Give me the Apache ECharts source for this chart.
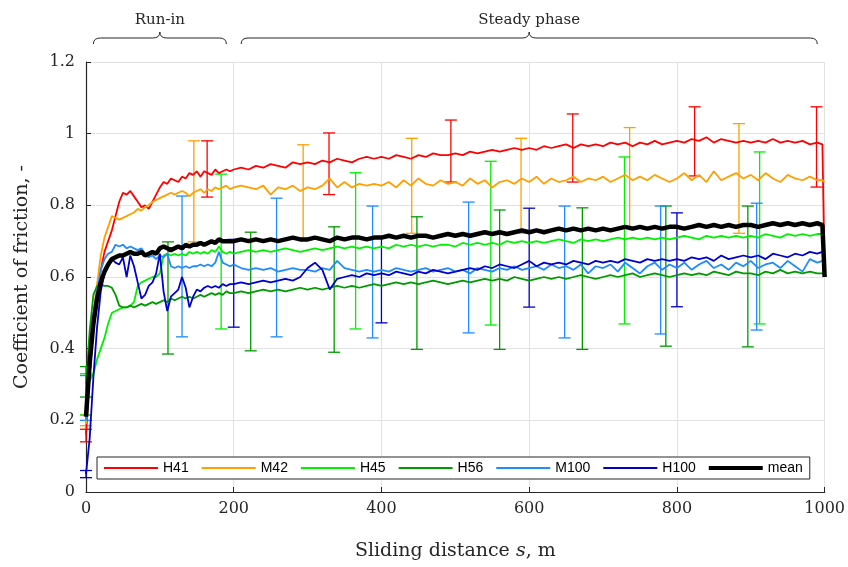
<!DOCTYPE html>
<html>
<head>
<meta charset="utf-8">
<script src="https://cdn.jsdelivr.net/npm/echarts@6/dist/echarts.min.js"></script>
<style>
  html, body { margin: 0; padding: 0; background: #fff; }
  #chart { width: 848px; height: 567px; }
</style>
</head>
<body>
<div id="chart"></div>
<script>
// sliding distance, m
const distance = [
  0, 5, 10, 15, 20, 25, 30, 35, 40, 45,
  50, 55, 60, 65, 70, 75, 80, 85, 90, 95,
  100, 105, 110, 115, 120, 125, 130, 135, 140, 145,
  150, 155, 160, 165, 170, 175, 180, 185, 190, 195,
  200, 210, 220, 230, 240, 250, 260, 270, 280, 290,
  300, 310, 320, 330, 340, 350, 360, 370, 380, 390,
  400, 410, 420, 430, 440, 450, 460, 470, 480, 490,
  500, 510, 520, 530, 540, 550, 560, 570, 580, 590,
  600, 610, 620, 630, 640, 650, 660, 670, 680, 690,
  700, 710, 720, 730, 740, 750, 760, 770, 780, 790,
  800, 810, 820, 830, 840, 850, 860, 870, 880, 890,
  900, 910, 920, 930, 940, 950, 960, 970, 980, 990,
  997, 1000
]

const h41 = [
  0.16, 0.33, 0.45, 0.53, 0.62, 0.67, 0.70, 0.73, 0.77, 0.81,
  0.835, 0.83, 0.84, 0.825, 0.81, 0.795, 0.80, 0.79, 0.81, 0.83,
  0.85, 0.865, 0.86, 0.875, 0.87, 0.865, 0.88, 0.875, 0.89, 0.885,
  0.895, 0.88, 0.895, 0.89, 0.885, 0.90, 0.89, 0.895, 0.90, 0.895,
  0.90, 0.905, 0.90, 0.91, 0.905, 0.915, 0.91, 0.905, 0.92, 0.915,
  0.92, 0.915, 0.925, 0.92, 0.93, 0.925, 0.92, 0.93, 0.935, 0.93,
  0.935, 0.93, 0.94, 0.935, 0.93, 0.94, 0.935, 0.945, 0.94, 0.94,
  0.945, 0.94, 0.95, 0.945, 0.95, 0.955, 0.95, 0.955, 0.96, 0.955,
  0.96, 0.955, 0.965, 0.96, 0.965, 0.97, 0.96, 0.97, 0.965, 0.97,
  0.965, 0.975, 0.97, 0.975, 0.965, 0.975, 0.97, 0.98, 0.97, 0.975,
  0.98, 0.975, 0.985, 0.98, 0.99, 0.975, 0.985, 0.98, 0.975, 0.98,
  0.975, 0.98, 0.975, 0.985, 0.975, 0.98, 0.975, 0.98, 0.97, 0.975,
  0.97, 0.60
]
const m42 = [
  0.19, 0.35, 0.50, 0.58, 0.66, 0.71, 0.74, 0.77, 0.765, 0.76,
  0.765, 0.77, 0.775, 0.78, 0.79, 0.785, 0.795, 0.80, 0.81, 0.815,
  0.82, 0.825, 0.83, 0.835, 0.83, 0.835, 0.84, 0.835, 0.825, 0.835,
  0.84, 0.845, 0.835, 0.845, 0.84, 0.85, 0.845, 0.85, 0.855, 0.845,
  0.85, 0.855, 0.85, 0.845, 0.855, 0.83, 0.85, 0.845, 0.855, 0.84,
  0.85, 0.845, 0.855, 0.875, 0.85, 0.865, 0.85, 0.86, 0.855, 0.86,
  0.855, 0.865, 0.85, 0.87, 0.855, 0.875, 0.86, 0.855, 0.87, 0.86,
  0.865, 0.855, 0.875, 0.86, 0.87, 0.85, 0.865, 0.87, 0.86, 0.875,
  0.865, 0.88, 0.86, 0.875, 0.865, 0.87, 0.88, 0.865, 0.875, 0.87,
  0.88, 0.865, 0.875, 0.885, 0.87, 0.88, 0.87, 0.885, 0.875, 0.865,
  0.875, 0.89, 0.87, 0.885, 0.865, 0.895, 0.87, 0.88, 0.89, 0.875,
  0.885, 0.87, 0.89, 0.875, 0.865, 0.885, 0.875, 0.87, 0.88, 0.87,
  0.87, 0.865
]
const h45 = [
  0.28, 0.31, 0.33, 0.37, 0.40, 0.43, 0.47, 0.50, 0.505, 0.51,
  0.515, 0.515, 0.52, 0.53, 0.575, 0.585, 0.59, 0.595, 0.60, 0.60,
  0.61, 0.66, 0.665, 0.66, 0.665, 0.66, 0.665, 0.66, 0.67, 0.665,
  0.67, 0.665, 0.67, 0.665, 0.675, 0.67, 0.685, 0.67, 0.665, 0.67,
  0.665, 0.67, 0.675, 0.67, 0.675, 0.67, 0.675, 0.68, 0.675, 0.67,
  0.675, 0.68, 0.675, 0.68, 0.685, 0.68, 0.685, 0.68, 0.685, 0.68,
  0.685, 0.68, 0.69, 0.685, 0.69, 0.685, 0.69, 0.685, 0.69, 0.69,
  0.685, 0.695, 0.69, 0.695, 0.69, 0.695, 0.69, 0.70, 0.695, 0.70,
  0.695, 0.70, 0.695, 0.70, 0.705, 0.70, 0.695, 0.705, 0.70, 0.705,
  0.70, 0.705, 0.71, 0.705, 0.71, 0.705, 0.71, 0.705, 0.71, 0.705,
  0.71, 0.715, 0.71, 0.705, 0.715, 0.71, 0.715, 0.71, 0.715, 0.71,
  0.715, 0.71, 0.72, 0.715, 0.71, 0.72, 0.715, 0.72, 0.715, 0.72,
  0.72, 0.715
]
const h56 = [
  0.30, 0.45, 0.55, 0.575, 0.58, 0.575, 0.575, 0.57, 0.55, 0.52,
  0.515, 0.515, 0.52, 0.515, 0.52, 0.525, 0.52, 0.525, 0.53, 0.525,
  0.53, 0.535, 0.53, 0.54, 0.535, 0.54, 0.545, 0.54, 0.545, 0.54,
  0.545, 0.55, 0.545, 0.55, 0.555, 0.55, 0.555, 0.55, 0.56, 0.555,
  0.555, 0.56, 0.555, 0.56, 0.565, 0.56, 0.565, 0.56, 0.565, 0.57,
  0.565, 0.57, 0.565, 0.57, 0.575, 0.57, 0.575, 0.57, 0.575, 0.58,
  0.575, 0.58, 0.585, 0.58, 0.585, 0.58, 0.585, 0.59, 0.585, 0.58,
  0.585, 0.59, 0.585, 0.59, 0.595, 0.59, 0.595, 0.59, 0.60, 0.595,
  0.59, 0.595, 0.60, 0.595, 0.60, 0.595, 0.60, 0.605, 0.60, 0.595,
  0.60, 0.605, 0.60, 0.605, 0.61, 0.60, 0.605, 0.61, 0.605, 0.60,
  0.605, 0.61, 0.605, 0.61, 0.605, 0.615, 0.61, 0.605, 0.615, 0.61,
  0.61, 0.605, 0.615, 0.61, 0.62, 0.61, 0.615, 0.61, 0.615, 0.61,
  0.61, 0.605
]
const m100 = [
  0.20, 0.38, 0.50, 0.56, 0.62, 0.65, 0.665, 0.67, 0.69, 0.685,
  0.69, 0.68, 0.685, 0.68, 0.675, 0.68, 0.665, 0.655, 0.66, 0.65,
  0.66, 0.655, 0.665, 0.63, 0.625, 0.63, 0.625, 0.63, 0.625, 0.63,
  0.63, 0.635, 0.63, 0.635, 0.63, 0.64, 0.67, 0.64, 0.635, 0.63,
  0.635, 0.625, 0.62, 0.625, 0.62, 0.625, 0.615, 0.62, 0.625, 0.62,
  0.62, 0.615, 0.625, 0.62, 0.645, 0.625, 0.62, 0.615, 0.62, 0.615,
  0.62, 0.615, 0.625, 0.62, 0.615, 0.62, 0.625, 0.615, 0.62, 0.625,
  0.615, 0.62, 0.61, 0.625, 0.62, 0.615, 0.625, 0.62, 0.63, 0.62,
  0.625, 0.63, 0.62, 0.635, 0.625, 0.63, 0.62, 0.635, 0.61, 0.63,
  0.625, 0.635, 0.615, 0.64, 0.625, 0.61, 0.63, 0.64, 0.62, 0.635,
  0.625, 0.64, 0.62, 0.635, 0.645, 0.625, 0.635, 0.62, 0.64, 0.63,
  0.645, 0.625, 0.635, 0.64, 0.625, 0.645, 0.63, 0.615, 0.65, 0.64,
  0.645, 0.64
]
const h100 = [
  0.05, 0.15, 0.32, 0.46, 0.56, 0.61, 0.64, 0.65, 0.64, 0.635,
  0.655, 0.60, 0.66, 0.63, 0.585, 0.54, 0.55, 0.575, 0.585, 0.61,
  0.665, 0.56, 0.505, 0.545, 0.555, 0.565, 0.60, 0.57, 0.515, 0.545,
  0.565, 0.56, 0.57, 0.575, 0.57, 0.575, 0.57, 0.58, 0.575, 0.58,
  0.58, 0.585, 0.58, 0.585, 0.59, 0.585, 0.59, 0.595, 0.59, 0.60,
  0.625, 0.64, 0.62, 0.565, 0.595, 0.60, 0.605, 0.60, 0.61, 0.605,
  0.61, 0.605, 0.615, 0.61, 0.605, 0.615, 0.61, 0.62, 0.615, 0.61,
  0.615, 0.62, 0.625, 0.62, 0.63, 0.625, 0.635, 0.63, 0.625, 0.635,
  0.645, 0.63, 0.64, 0.635, 0.64, 0.635, 0.645, 0.64, 0.635, 0.645,
  0.64, 0.645, 0.64, 0.65, 0.645, 0.64, 0.65, 0.645, 0.65, 0.645,
  0.65, 0.645, 0.655, 0.65, 0.655, 0.645, 0.66, 0.65, 0.655, 0.66,
  0.655, 0.66, 0.65, 0.665, 0.66, 0.655, 0.665, 0.66, 0.67, 0.665,
  0.67, 0.665
]
const meanCof = [
  0.21, 0.36, 0.47, 0.54, 0.585, 0.615, 0.635, 0.65, 0.655, 0.66,
  0.66, 0.665, 0.67, 0.665, 0.665, 0.67, 0.66, 0.665, 0.67, 0.665,
  0.68, 0.685, 0.68, 0.675, 0.68, 0.685, 0.68, 0.69, 0.685, 0.69,
  0.69, 0.695, 0.69, 0.695, 0.70, 0.695, 0.705, 0.70, 0.70, 0.70,
  0.70, 0.705, 0.70, 0.705, 0.70, 0.705, 0.70, 0.705, 0.71, 0.705,
  0.705, 0.71, 0.705, 0.70, 0.71, 0.705, 0.71, 0.71, 0.705, 0.71,
  0.71, 0.715, 0.71, 0.715, 0.71, 0.715, 0.715, 0.71, 0.715, 0.72,
  0.715, 0.72, 0.715, 0.72, 0.725, 0.72, 0.725, 0.72, 0.725, 0.73,
  0.725, 0.73, 0.725, 0.73, 0.735, 0.73, 0.735, 0.73, 0.735, 0.73,
  0.735, 0.73, 0.735, 0.74, 0.735, 0.74, 0.735, 0.74, 0.735, 0.74,
  0.74, 0.735, 0.74, 0.745, 0.74, 0.745, 0.74, 0.745, 0.74, 0.745,
  0.745, 0.74, 0.745, 0.75, 0.745, 0.75, 0.745, 0.75, 0.745, 0.75,
  0.745, 0.60
]

// error bars: [distance, low, high]
const h41Err = [[0, 0.14, 0.175], [164, 0.823, 0.98], [329, 0.83, 1.002], [494, 0.865, 1.038], [659, 0.865, 1.055], [824, 0.882, 1.075], [989, 0.851, 1.075]]
const m42Err = [[0, 0.185, 0.215], [146, 0.698, 0.98], [294, 0.708, 0.969], [441, 0.722, 0.987], [589, 0.722, 0.987], [736, 0.74, 1.017], [884, 0.722, 1.028]]
const h45Err = [[0, 0.215, 0.33], [183, 0.455, 0.887], [365, 0.455, 0.891], [548, 0.466, 0.923], [729, 0.469, 0.935], [912, 0.469, 0.949]]
const h56Err = [[0, 0.265, 0.35], [111, 0.385, 0.698], [223, 0.394, 0.725], [336, 0.39, 0.74], [448, 0.398, 0.768], [560, 0.398, 0.787], [672, 0.398, 0.793], [785, 0.407, 0.798], [896, 0.405, 0.798]]
const m100Err = [[0, 0.2, 0.325], [130, 0.433, 0.826], [258, 0.433, 0.82], [388, 0.43, 0.798], [518, 0.444, 0.809], [648, 0.43, 0.798], [778, 0.441, 0.798], [908, 0.452, 0.806]]
const h100Err = [[0, 0.04, 0.06], [200, 0.46, 0.705], [400, 0.472, 0.71], [600, 0.516, 0.792], [800, 0.517, 0.779]]

const names = ['H41', 'M42', 'H45', 'H56', 'M100', 'H100', 'mean']
const colors = ['#ff0000', '#ffa000', '#00f000', '#009a00', '#1e8cff', '#0000cc', '#000000']
const curves = [h41, m42, h45, h56, m100, h100, meanCof]
const errs = [h41Err, m42Err, h45Err, h56Err, m100Err, h100Err]

// phases marked with braces above the plot
const phaseNames = ['Run-in', 'Steady phase']
const phaseStart = [10, 210]
const phaseEnd = [190, 990]

const textColor = '#262626'
const chart = echarts.init(document.getElementById('chart'), null, { renderer: 'canvas' })

const errorSeries = (name, color, bars) => ({
  type: 'custom',
  name: name + ' sd',
  data: bars,
  encode: { x: 0, y: [1, 2] },
  clip: false,
  silent: true,
  z: 2,
  renderItem: (params, api) => {
    const lo = api.coord([api.value(0), api.value(1)])
    const hi = api.coord([api.value(0), api.value(2)])
    const w = 6
    const style = { stroke: color, lineWidth: 1.3 }
    return {
      type: 'group',
      children: [
        { type: 'line', shape: { x1: lo[0], y1: lo[1], x2: hi[0], y2: hi[1] }, style },
        { type: 'line', shape: { x1: lo[0] - w, y1: lo[1], x2: lo[0] + w, y2: lo[1] }, style },
        { type: 'line', shape: { x1: hi[0] - w, y1: hi[1], x2: hi[0] + w, y2: hi[1] }, style },
      ],
    }
  },
})

const lineSeries = names.map((name, i) => ({
  type: 'line',
  name,
  data: distance.map((d, k) => [d, curves[i][k]]),
  showSymbol: false,
  symbol: 'none',
  color: colors[i],
  lineStyle: { width: name === 'mean' ? 4.5 : 1.8, color: colors[i] },
  z: name === 'mean' ? 4 : 3,
  silent: true,
}))

const braceSeries = {
  type: 'custom',
  name: 'phases',
  data: phaseStart.map((s, i) => [s, phaseEnd[i]]),
  encode: { x: [0, 1] },
  clip: false,
  silent: true,
  z: 5,
  renderItem: (params, api) => {
    const a = api.coord([api.value(0), 1.2])
    const b = api.coord([api.value(1), 1.2])
    const x1 = a[0]
    const x2 = b[0]
    const xm = (x1 + x2) / 2
    const top = a[1]
    const yEnd = top - 18
    const yMid = top - 24
    const yTip = top - 30
    const r = 7
    const d = 'M' + x1 + ',' + yEnd + ' Q' + x1 + ',' + yMid + ' ' + (x1 + r) + ',' + yMid +
      ' L' + (xm - r) + ',' + yMid + ' Q' + xm + ',' + yMid + ' ' + xm + ',' + yTip +
      ' Q' + xm + ',' + yMid + ' ' + (xm + r) + ',' + yMid +
      ' L' + (x2 - r) + ',' + yMid + ' Q' + x2 + ',' + yMid + ' ' + x2 + ',' + yEnd
    return {
      type: 'group',
      children: [
        { type: 'path', shape: { pathData: d }, style: { stroke: textColor, fill: null, lineWidth: 1 } },
        {
          type: 'text',
          style: {
            text: phaseNames[params.dataIndex],
            x: xm,
            y: yTip - 4,
            align: 'center',
            verticalAlign: 'bottom',
            font: '15px "DejaVu Serif"',
            fill: textColor,
          },
        },
      ],
    }
  },
}

chart.setOption({
  animation: false,
  backgroundColor: '#fff',
  grid: { left: 86, right: 23, top: 62, bottom: 75 },
  legend: {
    // plain line samples, the mean one drawn thicker
    data: names.map(name => ({
      name,
      icon: name === 'mean' ? 'path://M0,0h27v2h-27z' : 'path://M0,0h27v1h-27z',
    })),
    left: 97,
    top: 457,
    itemWidth: 54,
    itemHeight: 14,
    itemGap: 13,
    padding: [4, 7],
    borderColor: textColor,
    borderWidth: 1,
    backgroundColor: '#fff',
    textStyle: { fontFamily: 'Liberation Sans', fontSize: 14, color: '#000' },
  },
  xAxis: {
    type: 'value',
    min: 0,
    max: 1000,
    interval: 200,
    name: 'Sliding distance {i|s}, m',
    nameLocation: 'middle',
    nameGap: 50,
    nameTextStyle: {
      fontFamily: 'DejaVu Serif',
      fontSize: 19,
      color: textColor,
      rich: { i: { fontFamily: 'DejaVu Serif', fontStyle: 'italic', fontSize: 19, color: textColor } },
    },
    axisLine: { lineStyle: { color: textColor, width: 1.2 } },
    axisTick: { inside: true, length: 5, lineStyle: { color: textColor } },
    axisLabel: { margin: 9, fontFamily: 'DejaVu Serif', fontSize: 16, color: textColor, formatter: v => String(v) },
    splitLine: { show: true, lineStyle: { color: '#e2e2e2', width: 1 } },
  },
  yAxis: {
    type: 'value',
    min: 0,
    max: 1.2,
    interval: 0.2,
    name: 'Coefficient of friction, -',
    nameLocation: 'middle',
    nameGap: 54,
    nameTextStyle: { fontFamily: 'DejaVu Serif', fontSize: 19, color: textColor },
    axisLine: { show: true, lineStyle: { color: textColor, width: 1.2 } },
    axisTick: { show: true, inside: true, length: 5, lineStyle: { color: textColor } },
    axisLabel: {
      margin: 11,
      fontFamily: 'DejaVu Serif',
      fontSize: 16,
      color: textColor,
      formatter: v => String(Math.round(v * 10) / 10),
    },
    splitLine: { show: true, lineStyle: { color: '#e2e2e2', width: 1 } },
  },
  series: [
    ...errs.map((bars, i) => errorSeries(names[i], colors[i], bars)),
    ...lineSeries,
    braceSeries,
  ],
})
</script>
</body>
</html>
